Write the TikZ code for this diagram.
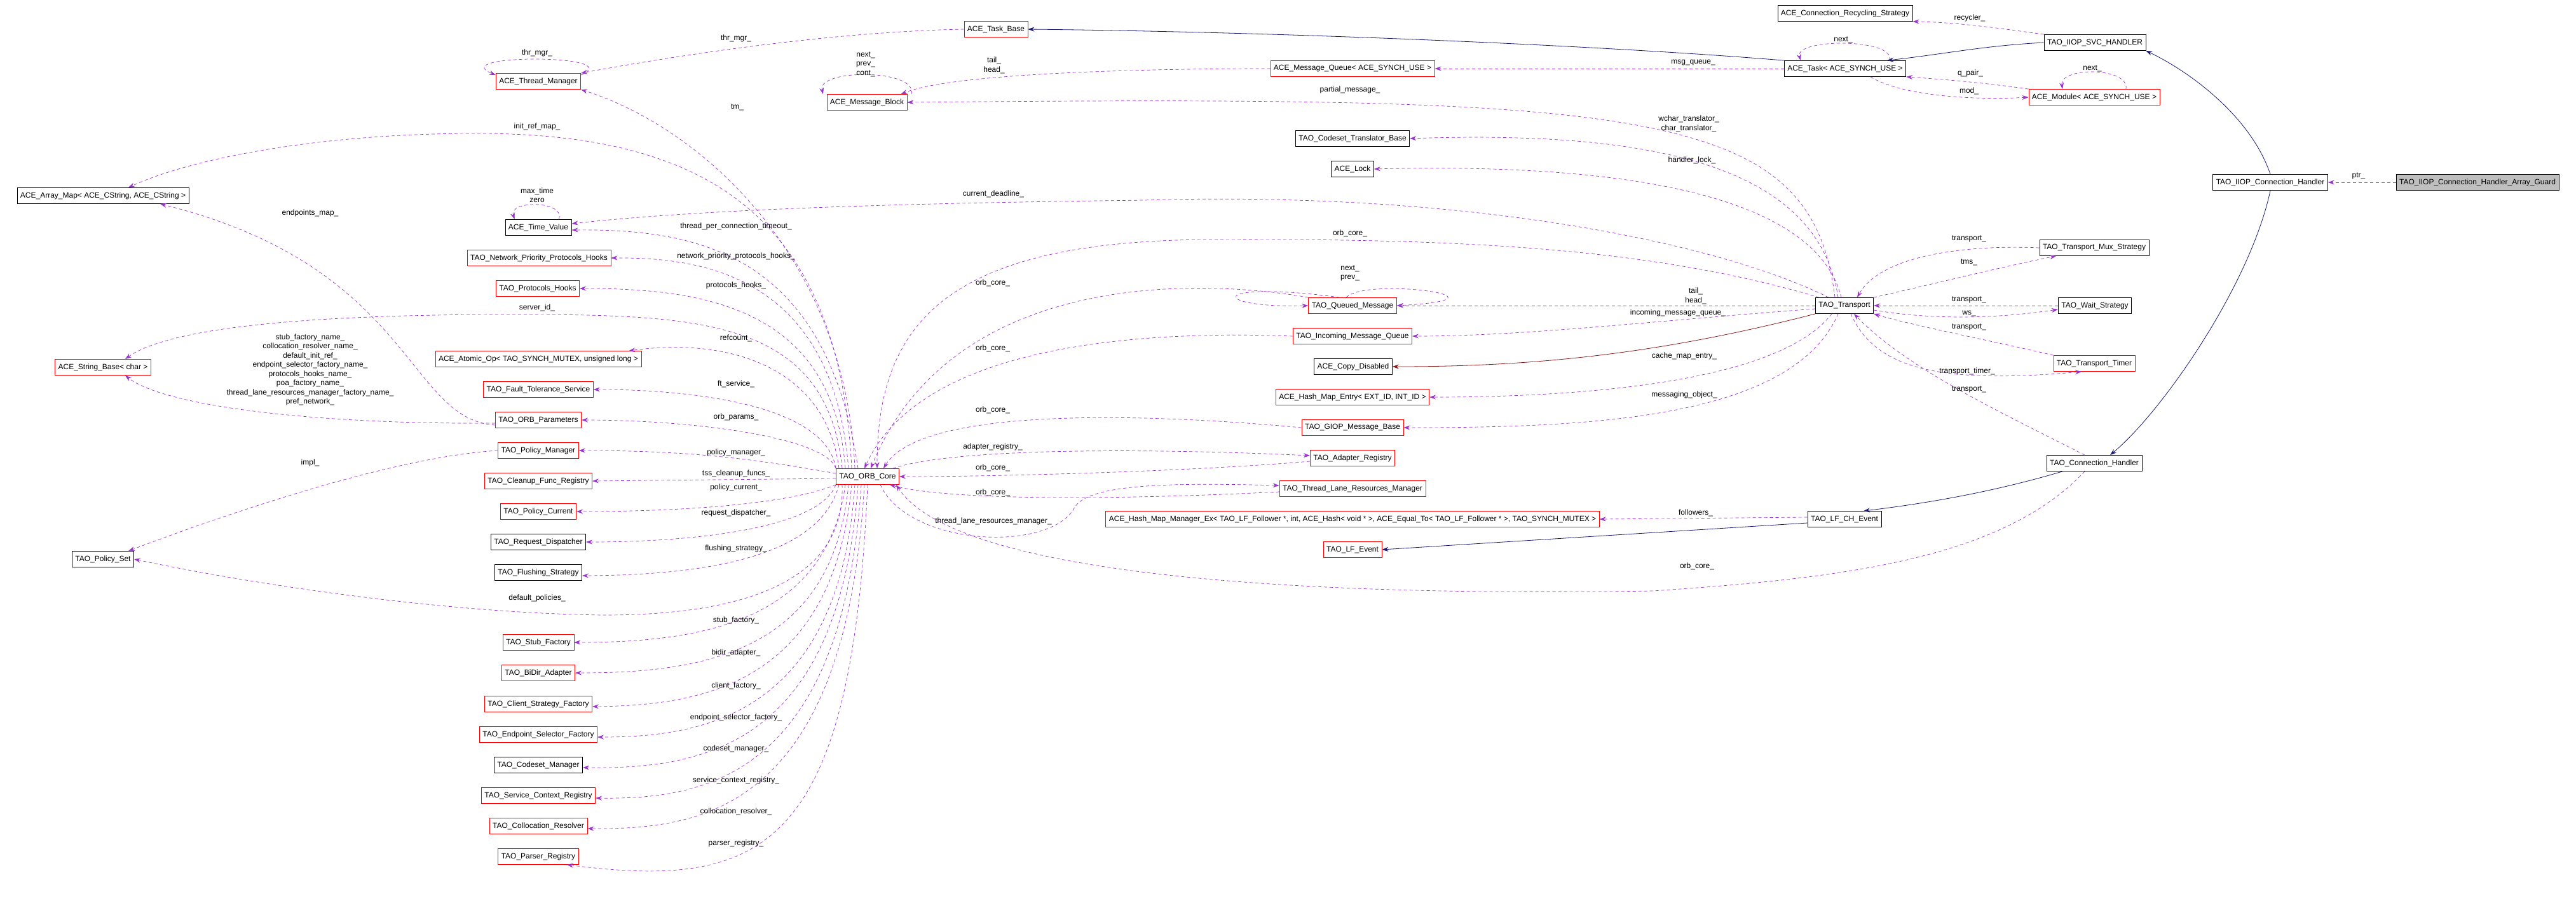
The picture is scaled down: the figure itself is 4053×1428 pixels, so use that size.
\documentclass[tikz,border=0pt]{standalone}
\usepackage{fontspec}
\setmainfont{Liberation Sans}
\usetikzlibrary{arrows.meta}
\definecolor{pur}{HTML}{9A32CD}
\definecolor{navyc}{HTML}{191970}
\definecolor{dred}{HTML}{8B1A1A}
\begin{document}
\begin{tikzpicture}[x=1pt,y=1pt,
 box/.style={draw=black,fill=white,font=\fontsize{12}{14}\selectfont,minimum height=25pt,inner xsep=5pt,inner ysep=2pt,line width=0.8pt},
 rbox/.style={box,draw=red},
 use/.style={draw=pur,line width=0.7pt,dash pattern=on 5pt off 4pt,-{Stealth[length=10pt,width=7pt]}},
 inh/.style={draw=navyc,line width=0.8pt,-{Stealth[length=10pt,width=7pt]}},
 inr/.style={draw=dred,line width=0.8pt,-{Stealth[length=10pt,width=7pt]}},
 lbl/.style={font=\fontsize{12}{14.5}\selectfont,align=center,inner sep=0pt}]
\useasboundingbox (0,0) rectangle (4053,-1428);
% ---- nodes ----
\node[box,fill=black!25] (guard) at (3898,-287) {TAO\_IIOP\_Connection\_Handler\_Array\_Guard};
\node[box] (iiopch) at (3572,-287) {TAO\_IIOP\_Connection\_Handler};
\node[box] (svc) at (3296,-67) {TAO\_IIOP\_SVC\_HANDLER};
\node[box] (rec) at (2903,-21) {ACE\_Connection\_Recycling\_Strategy};
\node[box] (task) at (2903,-108) {ACE\_Task< ACE\_SYNCH\_USE >};
\node[rbox] (mod) at (3295,-153) {ACE\_Module< ACE\_SYNCH\_USE >};
\node[rbox] (tb) at (1567,-46) {ACE\_Task\_Base};
\node[rbox] (mq) at (2128,-108) {ACE\_Message\_Queue< ACE\_SYNCH\_USE >};
\node[rbox] (mb) at (1364,-161) {ACE\_Message\_Block};
\node[rbox] (tm) at (847,-128) {ACE\_Thread\_Manager};
\node[box] (ctb) at (2128,-218) {TAO\_Codeset\_Translator\_Base};
\node[box] (lock) at (2128,-266) {ACE\_Lock};
\node[box] (tr) at (2902,-481) {TAO\_Transport};
\node[box] (mux) at (3295,-390) {TAO\_Transport\_Mux\_Strategy};
\node[box] (wait) at (3296,-481) {TAO\_Wait\_Strategy};
\node[rbox] (timer) at (3295,-572) {TAO\_Transport\_Timer};
\node[box] (ch) at (3295,-729) {TAO\_Connection\_Handler};
\node[box] (lfch) at (2902,-817) {TAO\_LF\_CH\_Event};
\node[rbox] (hmm) at (2128,-817) {ACE\_Hash\_Map\_Manager\_Ex< TAO\_LF\_Follower *, int, ACE\_Hash< void * >, ACE\_Equal\_To< TAO\_LF\_Follower * >, TAO\_SYNCH\_MUTEX >};
\node[rbox] (lfe) at (2128,-865) {TAO\_LF\_Event};
\node[rbox] (qm) at (2128,-481) {TAO\_Queued\_Message};
\node[rbox] (imq) at (2128,-529) {TAO\_Incoming\_Message\_Queue};
\node[box] (cd) at (2129,-577) {ACE\_Copy\_Disabled};
\node[rbox] (hme) at (2128,-625) {ACE\_Hash\_Map\_Entry< EXT\_ID, INT\_ID >};
\node[rbox] (giop) at (2128,-673) {TAO\_GIOP\_Message\_Base};
\node[rbox] (ar) at (2128,-721) {TAO\_Adapter\_Registry};
\node[rbox] (tlr) at (2128,-769) {TAO\_Thread\_Lane\_Resources\_Manager};
\node[rbox] (orb) at (1365,-750) {TAO\_ORB\_Core};
\node[box] (am) at (162,-308) {ACE\_Array\_Map< ACE\_CString, ACE\_CString >};
\node[rbox] (sb) at (162,-578) {ACE\_String\_Base< char >};
\node[box] (ps) at (162,-880) {TAO\_Policy\_Set};
\node[box] (tv) at (847,-358) {ACE\_Time\_Value};
\node[rbox] (npp) at (848,-406) {TAO\_Network\_Priority\_Protocols\_Hooks};
\node[rbox] (ph) at (846,-454) {TAO\_Protocols\_Hooks};
\node[rbox] (ato) at (847,-565) {ACE\_Atomic\_Op< TAO\_SYNCH\_MUTEX, unsigned long >};
\node[rbox] (ft) at (847,-613) {TAO\_Fault\_Tolerance\_Service};
\node[rbox] (par) at (847,-661) {TAO\_ORB\_Parameters};
\node[rbox] (pm) at (847,-709) {TAO\_Policy\_Manager};
\node[rbox] (cfr) at (847,-757) {TAO\_Cleanup\_Func\_Registry};
\node[rbox] (pc) at (847,-805) {TAO\_Policy\_Current};
\node[box] (rd) at (847,-853) {TAO\_Request\_Dispatcher};
\node[box] (fs) at (847,-901) {TAO\_Flushing\_Strategy};
\node[rbox] (sf) at (847,-1011) {TAO\_Stub\_Factory};
\node[rbox] (bd) at (847,-1059) {TAO\_BiDir\_Adapter};
\node[rbox] (csf) at (847,-1108) {TAO\_Client\_Strategy\_Factory};
\node[rbox] (esf) at (847,-1156) {TAO\_Endpoint\_Selector\_Factory};
\node[box] (cm) at (847,-1204) {TAO\_Codeset\_Manager};
\node[rbox] (scr) at (847,-1252) {TAO\_Service\_Context\_Registry};
\node[rbox] (cr) at (847,-1300) {TAO\_Collocation\_Resolver};
\node[rbox] (pr) at (847,-1348) {TAO\_Parser\_Registry};
% ---- right part ----
\draw[use] (guard.west) -- (iiopch.east);
\node[lbl] at (3711,-277) {ptr\_};
\draw[inh] (iiopch.north) .. controls (3540,-180) and (3440,-110) .. (svc.south east);
\draw[inh] (iiopch.south) .. controls (3540,-450) and (3400,-650) .. ([xshift=25pt]ch.north);
\draw[inh] (svc.west) .. controls (3120,-72) and (3060,-85) .. ([xshift=-30pt]task.north east);
\draw[use] (svc.north west) .. controls (3150,-45) and (3080,-35) .. (rec.south east);
\node[lbl] at (3099,-28) {recycler\_};
\draw[inh] (task.north west) .. controls (2500,-70) and (2000,-50) .. (tb.east);
\draw[use] ([xshift=70pt]task.north) .. controls +(10,35) and +(-10,35) .. ([xshift=-70pt]task.north);
\node[lbl] at (2900,-63) {next\_};
\draw[use] (task.west) -- (mq.east);
\node[lbl] at (2664,-99) {msg\_queue\_};
\draw[use] (mod.north west) .. controls (3120,-130) and (3060,-125) .. (task.south east);
\node[lbl] at (3100,-115) {q\_pair\_};
\draw[use] ([xshift=40pt]task.south) .. controls (2990,-150) and (3100,-158) .. (mod.west);
\node[lbl] at (3098,-143) {mod\_};
\draw[use] ([xshift=50pt]mod.north) .. controls +(5,35) and +(-5,35) .. ([xshift=-50pt]mod.north);
\node[lbl] at (3292,-108) {next\_};
\draw[use] (mq.west) .. controls (1800,-108) and (1500,-115) .. ([xshift=-10pt]mb.north east);
\node[lbl] at (1564,-103) {tail\_\\head\_};
\draw[use] ([xshift=70pt]mb.north) .. controls +(10,40) and +(-10,40) .. ([xshift=-69pt]mb.north);
\node[lbl] at (1362,-101) {next\_\\prev\_\\cont\_};
\draw[use] (tb.west) .. controls (1300,-50) and (1050,-90) .. (tm.north east);
\node[lbl] at (1158,-60) {thr\_mgr\_};
\draw[use] ([yshift=-3pt]tm.north east) .. controls (990,-85) and (700,-85) .. ([yshift=-3pt]tm.north west);
\node[lbl] at (845,-83) {thr\_mgr\_};
\draw[use] ([xshift=-15pt]tr.north) .. controls (2850,-170) and (2600,-150) .. (mb.east);
\node[lbl] at (2124,-141) {partial\_message\_};
\draw[use] ([xshift=-10pt]tr.north) .. controls (2860,-260) and (2600,-205) .. (ctb.east);
\node[lbl] at (2657,-195) {wchar\_translator\_\\char\_translator\_};
\draw[use] ([xshift=-5pt]tr.north) .. controls (2860,-320) and (2600,-255) .. (lock.east);
\node[lbl] at (2662,-252) {handler\_lock\_};
\draw[use] ([xshift=-25pt]tr.north) .. controls (2700,-380) and (2300,-300) .. (1800,-315) .. controls (1400,-320) and (1100,-330) .. ([yshift=6pt]tv.east);
\node[lbl] at (1563,-305) {current\_deadline\_};
\draw[use] ([xshift=-40pt]tr.north) .. controls (2600,-390) and (2300,-375) .. (1900,-377) .. controls (1500,-380) and (1380,-500) .. ([xshift=15pt]orb.north);
\node[lbl] at (2124,-367) {orb\_core\_};
\draw[use] (qm.north west) .. controls (1900,-440) and (1500,-420) .. ([xshift=5pt]orb.north);
\node[lbl] at (1562,-445) {orb\_core\_};
\draw[use] ([xshift=-20pt]qm.north) .. controls (1900,-440) and (1900,-485) .. (qm.west);
\draw[use] ([xshift=-10pt]qm.north) .. controls (2150,-435) and (2400,-470) .. (qm.east);
\node[lbl] at (2124,-430) {next\_\\prev\_};
\draw[use] (tr.west) -- (qm.east);
\node[lbl] at (2668,-466) {tail\_\\head\_};
\draw[use] ([yshift=-5pt]tr.west) .. controls (2600,-505) and (2400,-529) .. (imq.east);
\node[lbl] at (2640,-492) {incoming\_message\_queue\_};
\draw[use] (imq.west) .. controls (1800,-520) and (1450,-540) .. ([xshift=-5pt]orb.north);
\node[lbl] at (1562,-548) {orb\_core\_};
\draw[inr] (tr.south west) .. controls (2600,-560) and (2400,-577) .. (cd.east);
\draw[use] ([xshift=-20pt]tr.south) .. controls (2800,-600) and (2500,-625) .. (hme.east);
\node[lbl] at (2650,-560) {cache\_map\_entry\_};
\draw[use] ([xshift=-10pt]tr.south) .. controls (2820,-660) and (2500,-673) .. (giop.east);
\node[lbl] at (2650,-621) {messaging\_object\_};
\draw[use] (giop.west) .. controls (1800,-650) and (1450,-640) .. ([xshift=25pt]orb.north);
\node[lbl] at (1562,-645) {orb\_core\_};
\draw[use] ([xshift=-10pt]orb.north east) .. controls (1500,-705) and (1800,-705) .. ([yshift=4pt]ar.west);
\node[lbl] at (1562,-703) {adapter\_registry\_};
\draw[use] ([yshift=-5pt]ar.west) .. controls (1900,-740) and (1600,-750) .. (orb.east);
\node[lbl] at (1562,-736) {orb\_core\_};
\draw[use] ([yshift=-5pt]tlr.west) .. controls (1800,-785) and (1500,-790) .. ([xshift=-15pt]orb.south east);
\node[lbl] at (1562,-775) {orb\_core\_};
\draw[use] ([xshift=20pt]orb.south) .. controls (1430,-860) and (1650,-870) .. (1690,-800) .. controls (1710,-760) and (1850,-760) .. ([yshift=5pt]tlr.west);
\node[lbl] at (1563,-820) {thread\_lane\_resources\_manager\_};
\draw[use] ([yshift=3pt]lfch.west) -- (hmm.east);
\node[lbl] at (2668,-807) {followers\_};
\draw[inh] ([yshift=-6pt]lfch.west) -- (lfe.east);
\draw[inh] ([xshift=-50pt]ch.south) .. controls (3150,-770) and (3050,-790) .. ([xshift=30pt]lfch.north);
\draw[use] ([xshift=-15pt]ch.south) .. controls (3150,-880) and (2900,-910) .. (2600,-930) .. controls (2000,-940) and (1500,-900) .. ([xshift=-5pt]orb.south east);
\node[lbl] at (2670,-891) {orb\_core\_};
\draw[use] ([xshift=-15pt]ch.north) .. controls (3150,-650) and (3000,-580) .. ([xshift=15pt]tr.south);
\node[lbl] at (3098,-613) {transport\_};
\draw[use] ([xshift=10pt]tr.south) .. controls (2950,-580) and (3050,-605) .. ([xshift=-20pt]timer.south);
\node[lbl] at (3095,-584) {transport\_timer\_};
\draw[use] (timer.north west) .. controls (3150,-540) and (3000,-510) .. (tr.south east);
\node[lbl] at (3098,-515) {transport\_};
\draw[use] ([yshift=-7pt]tr.east) .. controls (3050,-505) and (3150,-500) .. ([yshift=-6pt]wait.west);
\node[lbl] at (3098,-493) {ws\_};
\draw[use] (wait.west) -- (tr.east);
\node[lbl] at (3098,-472) {transport\_};
\draw[use] (mux.west) .. controls (3100,-385) and (2960,-400) .. ([xshift=20pt]tr.north);
\node[lbl] at (3098,-376) {transport\_};
\draw[use] (tr.north east) .. controls (3050,-445) and (3150,-420) .. ([xshift=-60pt]mux.south);
\node[lbl] at (3098,-413) {tms\_};
% ---- ORB core left ----
\draw[use] ([xshift=-20pt]orb.north) .. controls (1330,-400) and (1100,-200) .. (tm.south east);
\node[lbl] at (1160,-169) {tm\_};
\draw[use] ([xshift=-25pt]orb.north) .. controls (1320,-330) and (1100,-210) .. (750,-210) .. controls (500,-210) and (300,-250) .. ([xshift=40pt]am.north);
\node[lbl] at (845,-199) {init\_ref\_map\_};
\draw[use] ([xshift=-15pt]orb.north) .. controls (1300,-400) and (1100,-360) .. ([yshift=-4pt]tv.east);
\node[lbl] at (1158,-356) {thread\_per\_connection\_timeout\_};
\draw[use] ([xshift=-20pt]tv.north east) .. controls +(10,30) and +(-10,30) .. ([xshift=15pt]tv.north west);
\node[lbl] at (845,-307) {max\_time\\zero};
\draw[use] ([xshift=-30pt]orb.north) .. controls (1310,-430) and (1100,-405) .. (npp.east);
\node[lbl] at (1158,-403) {network\_priority\_protocols\_hooks\_};
\draw[use] ([xshift=-35pt]orb.north) .. controls (1310,-480) and (1100,-454) .. (ph.east);
\node[lbl] at (1158,-449) {protocols\_hooks\_};
\draw[use] ([xshift=-40pt]orb.north) .. controls (1300,-500) and (1100,-495) .. (800,-495) .. controls (450,-495) and (260,-520) .. ([xshift=35pt]sb.north);
\node[lbl] at (845,-484) {server\_id\_};
\draw[use] ([xshift=-45pt]orb.north) .. controls (1300,-580) and (1150,-530) .. ([xshift=-20pt]ato.north east);
\node[lbl] at (1158,-532) {refcount\_};
\draw[use] ([xshift=-50pt]orb.north) .. controls (1300,-640) and (1100,-613) .. (ft.east);
\node[lbl] at (1158,-604) {ft\_service\_};
\draw[use] (orb.north west) .. controls (1300,-690) and (1100,-661) .. (par.east);
\node[lbl] at (1158,-656) {orb\_params\_};
\draw[use] ([yshift=5pt]orb.west) .. controls (1200,-725) and (1100,-709) .. (pm.east);
\node[lbl] at (1158,-712) {policy\_manager\_};
\draw[use] ([yshift=-3pt]orb.west) -- (cfr.east);
\node[lbl] at (1158,-745) {tss\_cleanup\_funcs\_};
\draw[use] (orb.south west) .. controls (1250,-790) and (1100,-805) .. (pc.east);
\node[lbl] at (1158,-767) {policy\_current\_};
\draw[use] ([xshift=-50pt]orb.south) .. controls (1290,-830) and (1100,-853) .. (rd.east);
\node[lbl] at (1158,-807) {request\_dispatcher\_};
\draw[use] ([xshift=-45pt]orb.south) .. controls (1290,-880) and (1100,-905) .. ([yshift=-5pt]fs.east);
\node[lbl] at (1158,-863) {flushing\_strategy\_};
\draw[use] ([xshift=-40pt]orb.south) .. controls (1330,-900) and (1200,-968) .. (950,-968) .. controls (700,-965) and (400,-920) .. (ps.east);
\node[lbl] at (845,-941) {default\_policies\_};
\draw[use] ([xshift=-35pt]orb.south) .. controls (1300,-980) and (1100,-1011) .. (sf.east);
\node[lbl] at (1158,-976) {stub\_factory\_};
\draw[use] ([xshift=-30pt]orb.south) .. controls (1310,-1030) and (1100,-1059) .. (bd.east);
\node[lbl] at (1158,-1027) {bidir\_adapter\_};
\draw[use] ([xshift=-25pt]orb.south) .. controls (1310,-1080) and (1100,-1110) .. ([yshift=-4pt]csf.east);
\node[lbl] at (1158,-1079) {client\_factory\_};
\draw[use] ([xshift=-20pt]orb.south) .. controls (1320,-1130) and (1100,-1160) .. ([yshift=-4pt]esf.east);
\node[lbl] at (1158,-1129) {endpoint\_selector\_factory\_};
\draw[use] ([xshift=-15pt]orb.south) .. controls (1320,-1180) and (1100,-1210) .. ([yshift=-4pt]cm.east);
\node[lbl] at (1158,-1178) {codeset\_manager\_};
\draw[use] ([xshift=-10pt]orb.south) .. controls (1325,-1230) and (1100,-1258) .. ([yshift=-4pt]scr.east);
\node[lbl] at (1158,-1228) {service\_context\_registry\_};
\draw[use] ([xshift=-5pt]orb.south) .. controls (1330,-1280) and (1100,-1305) .. ([yshift=-4pt]cr.east);
\node[lbl] at (1158,-1277) {collocation\_resolver\_};
\draw[use] (orb.south) .. controls (1340,-1340) and (1200,-1400) .. ([xshift=45pt]pr.south);
\node[lbl] at (1158,-1327) {parser\_registry\_};
% ---- left group ----
\draw[use] ([yshift=-8pt]par.west) .. controls (640,-660) and (650,-420) .. ([xshift=90pt]am.south);
\node[lbl] at (488,-335) {endpoints\_map\_};
\draw[use] ([yshift=-5pt]par.west) .. controls (500,-668) and (260,-640) .. ([xshift=35pt]sb.south);
\node[lbl] at (488,-582) {stub\_factory\_name\_\\collocation\_resolver\_name\_\\default\_init\_ref\_\\endpoint\_selector\_factory\_name\_\\protocols\_hooks\_name\_\\poa\_factory\_name\_\\thread\_lane\_resources\_manager\_factory\_name\_\\pref\_network\_};
\draw[use] (pm.west) .. controls (600,-720) and (300,-830) .. ([xshift=40pt]ps.north);
\node[lbl] at (488,-728) {impl\_};
\end{tikzpicture}
\end{document}
